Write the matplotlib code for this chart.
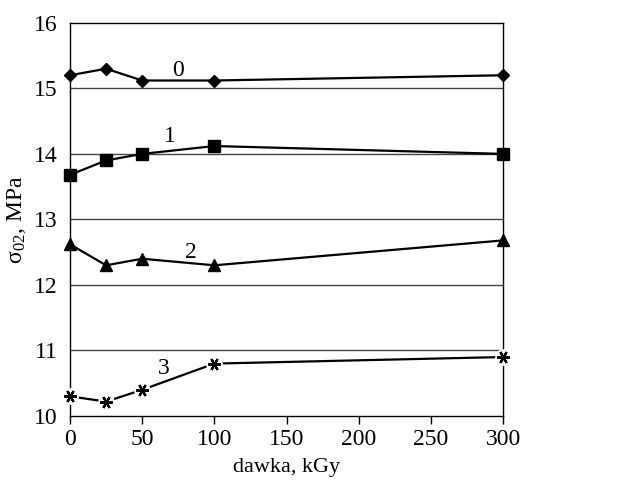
import matplotlib.pyplot as plt

plt.rcParams["font.family"] = ["Liberation Serif", "DejaVu Serif"]
plt.rcParams["mathtext.fontset"] = "stix"

# dose values and the four series
dawka = [0, 25, 50, 100, 300]
s0 = [15.2, 15.3, 15.12, 15.12, 15.2]
s1 = [13.68, 13.9, 14.0, 14.12, 14.0]
s2 = [12.62, 12.3, 12.4, 12.3, 12.68]
s3 = [10.3, 10.22, 10.4, 10.8, 10.9]
labels = ["0", "1", "2", "3"]
label_pos = [(75, 15.28), (69, 14.26), (84, 12.5), (65, 10.73)]

fig = plt.figure(figsize=(6.25, 4.86), dpi=100)
ax = fig.add_axes([0.112, 0.144, 0.693, 0.809])

# horizontal grid
for y in range(11, 16):
    ax.axhline(y, color="#444444", linewidth=1.0, zorder=1)

kw = dict(color="black", linewidth=1.6, zorder=3, clip_on=False)
ax.plot(dawka, s0, marker="D", markersize=6.5, **kw)
ax.plot(dawka, s1, marker="s", markersize=8, **kw)
ax.plot(dawka, s2, marker="^", markersize=8, **kw)
ax.plot(dawka, s3, **kw)
ax.plot(dawka, s3, linestyle="none", marker="o", markersize=11, color="white",
        zorder=4, clip_on=False)
ax.plot(dawka, s3, linestyle="none", marker=(6, 2, 90), markersize=9,
        markeredgewidth=1.6, color="black", zorder=5, clip_on=False)

for lab, (x, y) in zip(labels, label_pos):
    ax.text(x, y, lab, fontsize=17, ha="center", va="center", zorder=6)

ax.set_xlim(0, 300)
ax.set_ylim(10, 16)
ax.set_xticks([0, 50, 100, 150, 200, 250, 300])
ax.set_yticks([10, 11, 12, 13, 14, 15, 16])
ax.tick_params(axis="x", direction="out", length=6, width=1, labelsize=17, pad=3)
ax.tick_params(axis="y", length=0, labelsize=17, pad=9)
for sp in ax.spines.values():
    sp.set_linewidth(1.0)

ax.set_xlabel("dawka, kGy", fontsize=16, labelpad=6)
ax.set_ylabel(r"σ$_{\mathregular{02}}$, MPa", fontsize=17, labelpad=4)

plt.savefig("out.png", dpi=100)
